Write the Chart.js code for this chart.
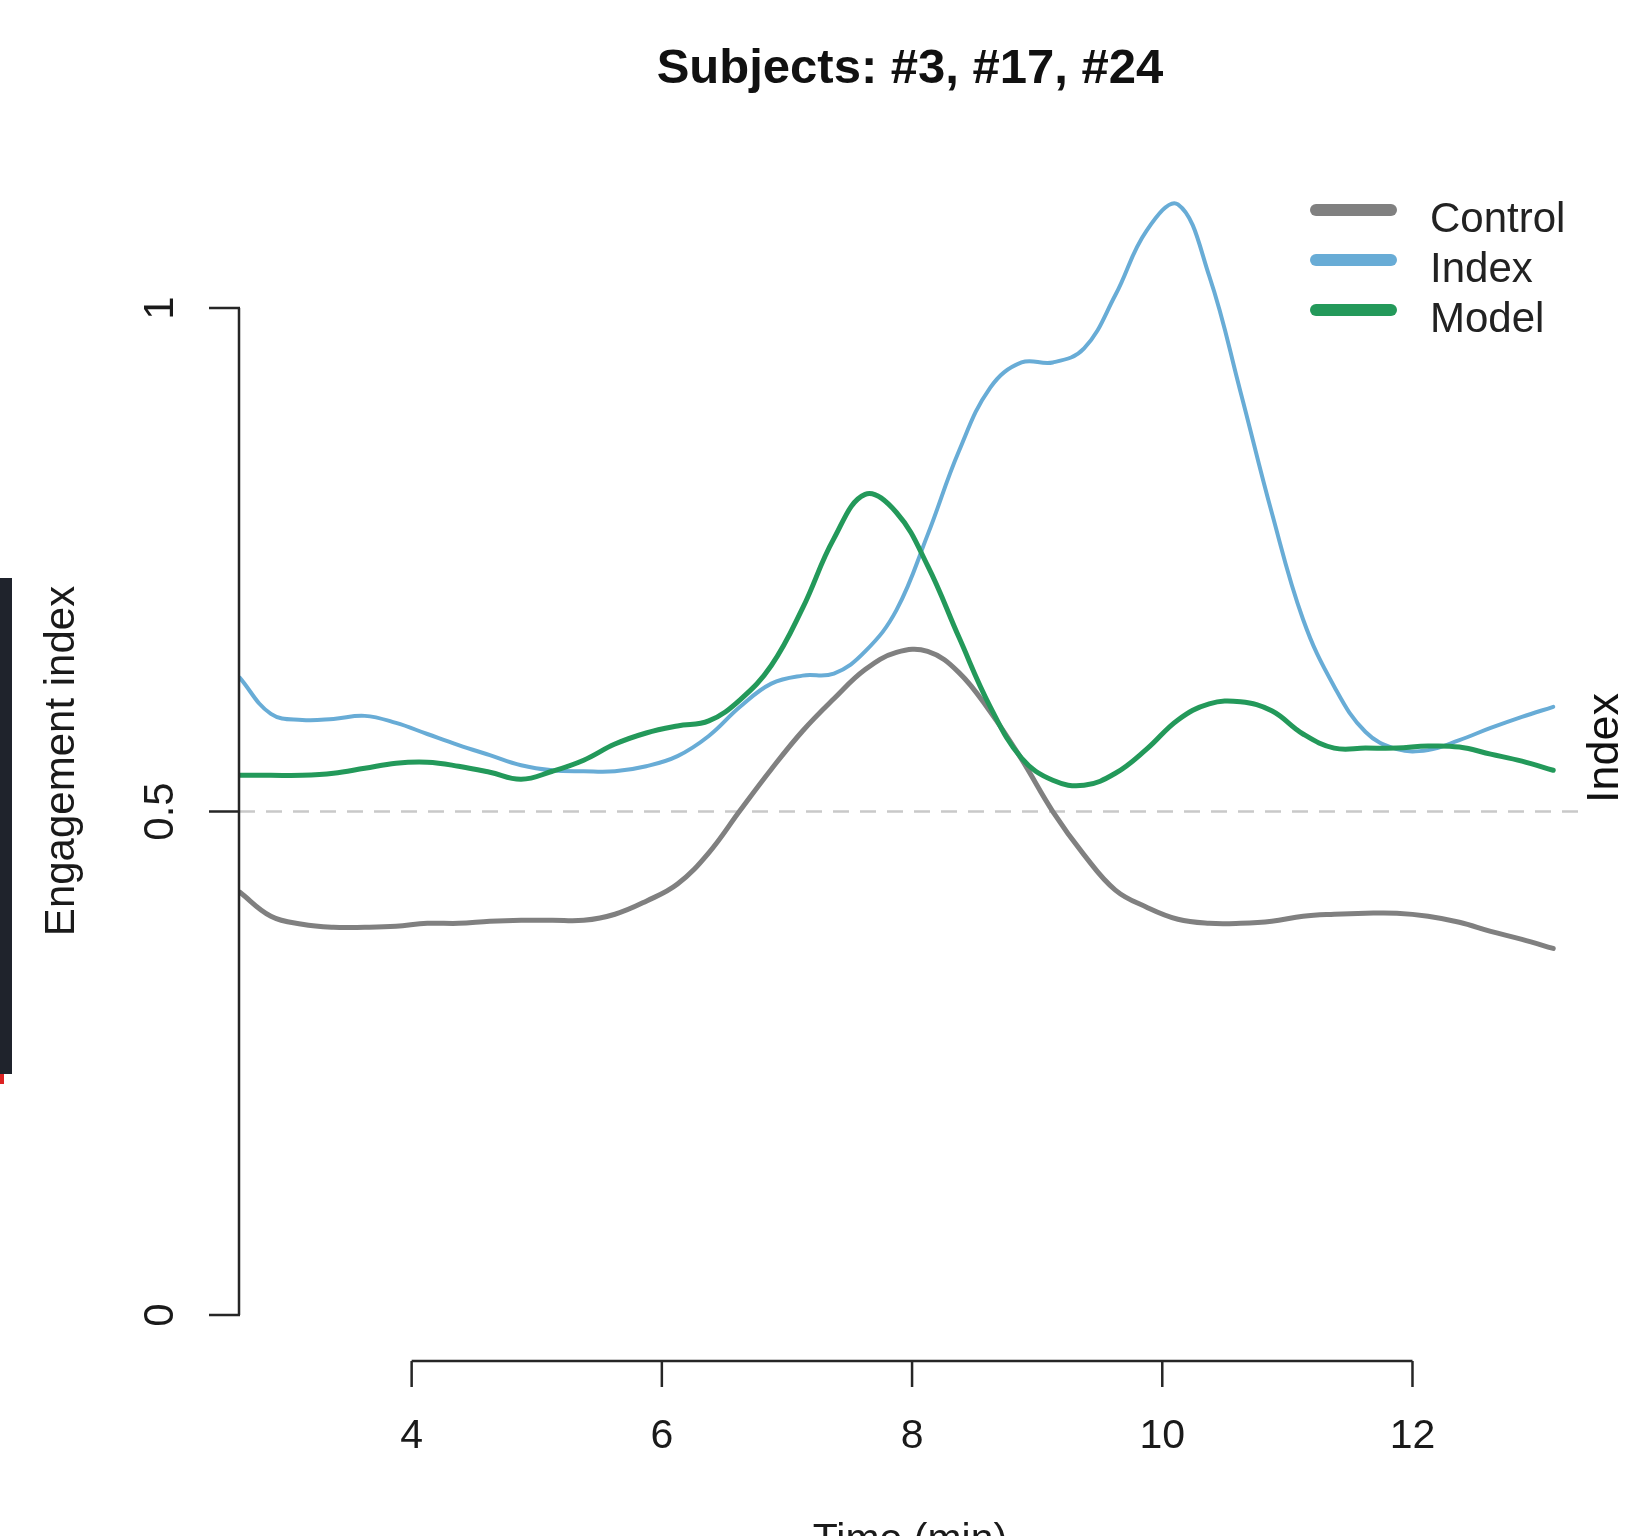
<!DOCTYPE html>
<html>
<head>
<meta charset="utf-8">
<title>Subjects: #3, #17, #24</title>
<script src="https://cdn.jsdelivr.net/npm/chart.js@4.4.1/dist/chart.umd.min.js"></script>
<style>
    html, body { margin: 0; padding: 0; background: #ffffff; }
    #wrap { position: relative; width: 1626px; height: 1536px; overflow: hidden; }
    #edge-bar { position: absolute; left: 0; top: 578px; width: 12px; height: 496px; background: #1f232c; }
    #edge-red { position: absolute; left: 0; top: 1074px; width: 4px; height: 10px; background: #d22; }
</style>
</head>
<body>
<div id="wrap">
    <canvas id="myChart" width="1626" height="1536"></canvas>
    <div id="edge-bar"></div>
    <div id="edge-red"></div>
</div>
<script>
// time in minutes
var times = [2.625, 2.875, 3.125, 3.375, 3.625, 3.875, 4.125, 4.375, 4.625, 4.875,
    5.125, 5.375, 5.625, 5.875, 6.125, 6.375, 6.625, 6.875, 7.125, 7.375,
    7.625, 7.875, 8.125, 8.375, 8.625, 8.875, 9.125, 9.375, 9.625, 9.875,
    10.125, 10.375, 10.625, 10.875, 11.125, 11.375, 11.625, 11.875, 12.125, 12.375,
    12.625, 12.875, 13.125];
var control_vals = [0.420, 0.396, 0.388, 0.385, 0.385, 0.386, 0.389, 0.389, 0.391, 0.392,
    0.392, 0.392, 0.398, 0.411, 0.428, 0.459, 0.501, 0.542, 0.580, 0.612,
    0.641, 0.658, 0.659, 0.638, 0.599, 0.552, 0.500, 0.457, 0.422, 0.405,
    0.393, 0.389, 0.389, 0.391, 0.396, 0.398, 0.399, 0.399, 0.396, 0.390,
    0.381, 0.373, 0.364];
var index_vals = [0.633, 0.597, 0.591, 0.592, 0.595, 0.588, 0.577, 0.566, 0.556, 0.546,
    0.541, 0.540, 0.540, 0.545, 0.555, 0.575, 0.604, 0.627, 0.635, 0.637,
    0.659, 0.700, 0.775, 0.858, 0.921, 0.946, 0.946, 0.960, 1.013, 1.077,
    1.103, 1.032, 0.917, 0.797, 0.691, 0.624, 0.579, 0.562, 0.561, 0.571,
    0.583, 0.594, 0.604];
var model_vals = [0.536, 0.536, 0.536, 0.538, 0.543, 0.548, 0.549, 0.545, 0.539, 0.532,
    0.540, 0.551, 0.567, 0.578, 0.585, 0.590, 0.611, 0.645, 0.702, 0.771,
    0.815, 0.797, 0.744, 0.673, 0.604, 0.553, 0.531, 0.526, 0.538, 0.562,
    0.591, 0.607, 0.609, 0.600, 0.577, 0.563, 0.563, 0.563, 0.565, 0.564,
    0.557, 0.550, 0.541];
var series_names = ['Control', 'Index', 'Model'];
var x_ticks = [4, 6, 8, 10, 12];
var y_ticks = [0, 0.5, 1];
var y_tick_labels = ['0', '0.5', '1'];
var ref_level = 0.5;

var font_family = "'Liberation Sans', Arial, Helvetica, sans-serif";

function to_points(vals) {
    return times.map(function (t, i) { return { x: t, y: vals[i] }; });
}

// R style axes, title, legend drawn on the chart scales
var r_style = {
    id: 'r_style',
    beforeDatasetsDraw: function (chart) {
        var ctx = chart.ctx;
        var area = chart.chartArea;
        var yy = chart.scales.y.getPixelForValue(ref_level);
        ctx.save();
        ctx.strokeStyle = '#c9c9c9';
        ctx.lineWidth = 2.5;
        ctx.setLineDash([16, 11]);
        ctx.beginPath();
        ctx.moveTo(area.left, yy);
        ctx.lineTo(area.right, yy);
        ctx.stroke();
        ctx.restore();
    },
    afterDraw: function (chart) {
        var ctx = chart.ctx;
        var area = chart.chartArea;
        var xs = chart.scales.x;
        var ys = chart.scales.y;
        ctx.save();
        ctx.strokeStyle = '#262626';
        ctx.fillStyle = '#1a1a1a';
        ctx.lineWidth = 2.5;

        // y axis
        ctx.beginPath();
        ctx.moveTo(area.left, ys.getPixelForValue(y_ticks[0]));
        ctx.lineTo(area.left, ys.getPixelForValue(y_ticks[y_ticks.length - 1]));
        y_ticks.forEach(function (v) {
            var p = ys.getPixelForValue(v);
            ctx.moveTo(area.left + 1, p);
            ctx.lineTo(area.left - 30, p);
        });
        ctx.stroke();
        ctx.font = '42px ' + font_family;
        ctx.textAlign = 'center';
        ctx.textBaseline = 'middle';
        y_ticks.forEach(function (v, i) {
            ctx.save();
            ctx.translate(area.left - 78, ys.getPixelForValue(v));
            ctx.rotate(-Math.PI / 2);
            ctx.fillText(y_tick_labels[i], 0, 0);
            ctx.restore();
        });

        // x axis
        ctx.beginPath();
        ctx.moveTo(xs.getPixelForValue(x_ticks[0]), area.bottom);
        ctx.lineTo(xs.getPixelForValue(x_ticks[x_ticks.length - 1]), area.bottom);
        x_ticks.forEach(function (v) {
            var p = xs.getPixelForValue(v);
            ctx.moveTo(p, area.bottom);
            ctx.lineTo(p, area.bottom + 26);
        });
        ctx.stroke();
        ctx.font = '41px ' + font_family;
        x_ticks.forEach(function (v) {
            ctx.fillText(String(v), xs.getPixelForValue(v), area.bottom + 76);
        });

        // axis titles
        var mid_x = (area.left + area.right) / 2;
        ctx.textBaseline = 'alphabetic';
        ctx.fillText('Time (min)', mid_x, 1552);
        ctx.save();
        ctx.translate(62, 761);
        ctx.rotate(-Math.PI / 2);
        ctx.textBaseline = 'middle';
        ctx.font = '42px ' + font_family;
        ctx.fillText('Engagement index', 0, 0);
        ctx.restore();

        // stray right label
        ctx.save();
        ctx.translate(1606, 748);
        ctx.rotate(-Math.PI / 2);
        ctx.textBaseline = 'middle';
        ctx.font = '45px ' + font_family;
        ctx.fillStyle = '#111';
        ctx.fillText('Index', 0, 0);
        ctx.restore();

        // title
        ctx.font = 'bold 49px ' + font_family;
        ctx.textBaseline = 'alphabetic';
        ctx.fillStyle = '#111';
        ctx.fillText('Subjects: #3, #17, #24', mid_x, 83);

        // legend
        ctx.textAlign = 'left';
        ctx.font = '42px ' + font_family;
        ctx.lineCap = 'round';
        chart.data.datasets.forEach(function (ds, i) {
            var ly = 210 + 50 * i;
            ctx.strokeStyle = ds.borderColor;
            ctx.lineWidth = 12;
            ctx.beginPath();
            ctx.moveTo(1316, ly);
            ctx.lineTo(1391, ly);
            ctx.stroke();
            ctx.fillStyle = '#222';
            ctx.fillText(ds.label, 1430, ly + 22);
        });
        ctx.restore();
    }
};

var ctx = document.getElementById('myChart');
var chart = new Chart(ctx, {
    type: 'line',
    data: {
        datasets: [
            {
                label: series_names[0],
                data: to_points(control_vals),
                borderColor: '#808080',
                borderWidth: 5,
                order: 3
            },
            {
                label: series_names[1],
                data: to_points(index_vals),
                borderColor: '#68acd6',
                borderWidth: 4,
                order: 2
            },
            {
                label: series_names[2],
                data: to_points(model_vals),
                borderColor: '#23995a',
                borderWidth: 5,
                order: 1
            }
        ]
    },
    options: {
        responsive: false,
        devicePixelRatio: 1,
        animation: false,
        layout: { padding: { left: 239, right: 45, top: 150, bottom: 175 } },
        elements: {
            point: { radius: 0 },
            line: { tension: 0.4, fill: false, borderCapStyle: 'round', borderJoinStyle: 'round' }
        },
        scales: {
            x: { type: 'linear', min: 2.62, max: 13.347, display: false },
            y: { type: 'linear', min: -0.0457, max: 1.157, display: false }
        },
        plugins: {
            legend: { display: false },
            title: { display: false },
            tooltip: { enabled: false }
        }
    },
    plugins: [r_style]
});
</script>
</body>
</html>
